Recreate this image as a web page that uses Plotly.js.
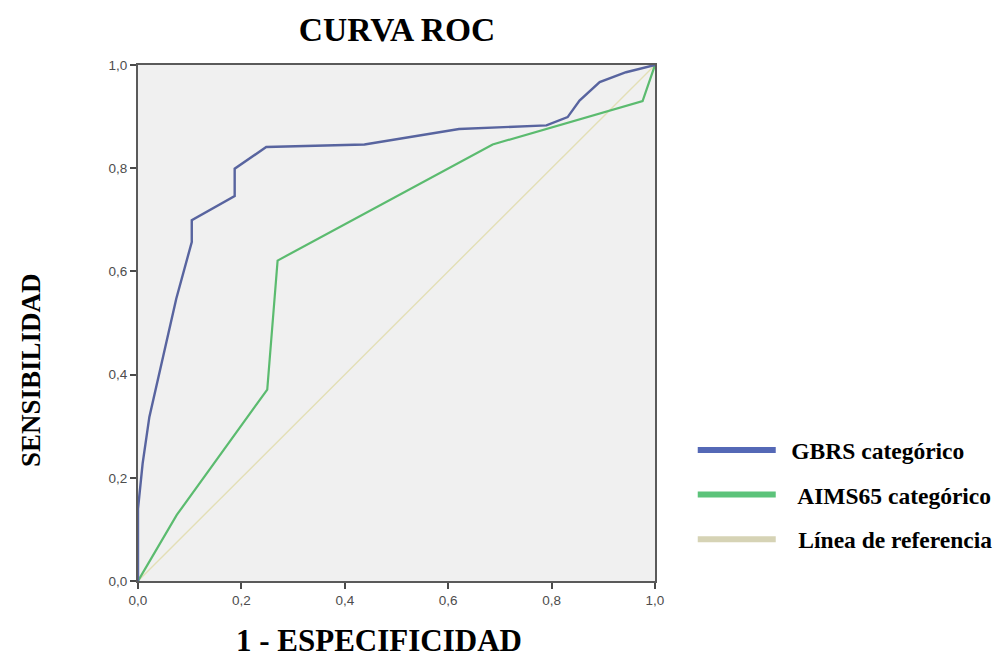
<!DOCTYPE html>
<html>
<head>
<meta charset="utf-8">
<script src="https://cdn.plot.ly/plotly-3.0.1.min.js"></script>
<style>
  html, body { margin: 0; padding: 0; background: #ffffff; }
  #chart { width: 999px; height: 658px; }
</style>
</head>
<body>
<div id="chart"></div>
<script>
// ROC curves: 1 - specificity (x) against sensitivity (y)
const seriesNames = ['GBRS categórico', 'AIMS65 categórico', 'Línea de referencia'];

const gbrsFpr = [0, 0, 0.009, 0.022, 0.074, 0.104, 0.104, 0.187, 0.187, 0.248, 0.438, 0.621, 0.79, 0.831, 0.854, 0.893, 0.944, 1];
const gbrsTpr = [0, 0.14, 0.228, 0.318, 0.547, 0.657, 0.699, 0.746, 0.799, 0.841, 0.846, 0.876, 0.883, 0.899, 0.931, 0.967, 0.986, 1];

const aimsFpr = [0, 0.075, 0.25, 0.27, 0.686, 0.976, 1];
const aimsTpr = [0, 0.128, 0.371, 0.621, 0.846, 0.93, 1];

const refFpr = [0, 1];
const refTpr = [0, 1];

const tickVals = [0, 0.2, 0.4, 0.6, 0.8, 1.0];
const tickLabels = ['0,0', '0,2', '0,4', '0,6', '0,8', '1,0'];

const curveColors = ['#58649f', '#5bbb6f', '#e3dfb6'];
const swatchColors = ['#5468b6', '#5cc37a', '#d6d3b5'];
// small indents in front of each legend label
const legendPrefix = ['\u00a0\u2009', '\u00a0\u00a0\u2009', '\u00a0\u00a0\u00a0'];

const curveX = [gbrsFpr, aimsFpr, refFpr];
const curveY = [gbrsTpr, aimsTpr, refTpr];
const curveWidths = [2.4, 2.2, 1.4];

const traces = [];
// draw reference first so the curves sit on top of it
[2, 1, 0].forEach(function (i) {
  traces.push({
    type: 'scatter', mode: 'lines',
    x: curveX[i], y: curveY[i],
    line: { color: curveColors[i], width: curveWidths[i] },
    showlegend: false, hoverinfo: 'x+y', name: seriesNames[i]
  });
});
// legend entries with thick swatches
[0, 1, 2].forEach(function (i) {
  traces.push({
    type: 'scatter', mode: 'lines',
    x: [null], y: [null],
    line: { color: swatchColors[i], width: 6 },
    name: legendPrefix[i] + '<b>' + seriesNames[i] + '</b>',
    legendgroup: 'g' + i, showlegend: true
  });
});

const serif = 'Liberation Serif, Times New Roman, serif';
const sans = 'Liberation Sans, Arial, sans-serif';

const axisBase = {
  range: [0, 1], tickvals: tickVals, ticktext: tickLabels,
  ticks: 'outside', ticklen: 6, tickwidth: 2, tickcolor: '#4a4a4a',
  tickfont: { family: sans, size: 13.5, color: '#4d4d4d' },
  showline: true, linecolor: '#5a5a5a', linewidth: 2, mirror: true,
  showgrid: false, zeroline: false, fixedrange: true
};

const layout = {
  width: 999, height: 658,
  margin: { l: 138, r: 344, t: 65, b: 77, autoexpand: false },
  paper_bgcolor: '#ffffff', plot_bgcolor: '#f0f0f0',
  title: {
    text: '<b>CURVA ROC</b>',
    font: { family: serif, size: 33.5, color: '#000000' },
    x: 397 / 999, xanchor: 'center', xref: 'container',
    y: 1 - 29 / 658, yanchor: 'middle', yref: 'container'
  },
  xaxis: Object.assign({}, axisBase),
  yaxis: Object.assign({}, axisBase),
  showlegend: true,
  legend: {
    x: 1.073, xanchor: 'left', y: 0.296, yanchor: 'top',
    font: { family: serif, size: 23.5, color: '#000000' },
    itemwidth: 78, tracegroupgap: 11,
    bgcolor: 'rgba(0,0,0,0)', traceorder: 'grouped'
  },
  annotations: [
    {
      text: '<b>1 - ESPECIFICIDAD</b>', showarrow: false,
      xref: 'paper', yref: 'paper', x: (379 - 138) / 517, y: -0.116,
      xanchor: 'center', yanchor: 'middle',
      font: { family: serif, size: 31, color: '#000000' }
    },
    {
      text: '<b>SENSIBILIDAD</b>', showarrow: false, textangle: -90,
      xref: 'paper', yref: 'paper', x: (31 - 138) / 517, y: (581 - 370) / 516,
      xanchor: 'center', yanchor: 'middle',
      font: { family: serif, size: 27, color: '#000000' }
    }
  ]
};

Plotly.newPlot('chart', traces, layout, { displayModeBar: false, staticPlot: true });
</script>
</body>
</html>
